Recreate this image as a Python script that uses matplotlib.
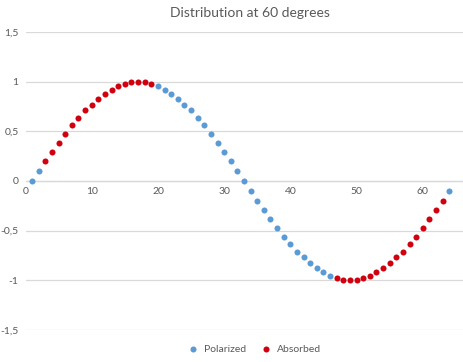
import matplotlib
matplotlib.use('Agg')
import matplotlib.pyplot as plt
from matplotlib.ticker import FuncFormatter

# data
pol_x = [1, 2] + list(range(20, 47)) + [64]
pol_y = [0, 0.10,
         0.96, 0.92, 0.88, 0.83, 0.77, 0.71, 0.63, 0.56, 0.47, 0.38, 0.29, 0.20, 0.10,
         0, -0.10, -0.20, -0.29, -0.38, -0.47, -0.56, -0.63, -0.71, -0.77, -0.83, -0.88,
         -0.92, -0.96,
         -0.10]
abs_x = list(range(3, 20)) + list(range(47, 64))
abs_y = [0.20, 0.29, 0.38, 0.47, 0.56, 0.63, 0.71, 0.77, 0.83, 0.88, 0.92, 0.96, 0.98,
         0.995, 1.00, 0.995, 0.98,
         -0.98, -0.995, -1.00, -0.995, -0.98, -0.96, -0.92, -0.88, -0.83, -0.77, -0.71,
         -0.63, -0.56, -0.47, -0.38, -0.29, -0.20]
y_ticks = [-1.5, -1, -0.5, 0, 0.5, 1, 1.5]
x_ticks = [0, 10, 20, 30, 40, 50, 60]

grey = '#595959'
plt.rcParams['font.family'] = ['Lato', 'DejaVu Sans']

fig = plt.figure(figsize=(4.63, 3.62), dpi=100)
ax = fig.add_axes([25.5/463, 32/362, 437/463, 298/362])

ax.scatter(pol_x, pol_y, s=19, color='#5B9BD5', label='Polarized', zorder=3, linewidths=0)
ax.scatter(abs_x, abs_y, s=19, color='#D0000E', label='Absorbed', zorder=3, linewidths=0)

ax.set_xlim(0, 66)
ax.set_ylim(-1.5, 1.5)
ax.set_yticks(y_ticks)
ax.set_xticks(x_ticks)
fmt = FuncFormatter(lambda v, p: ('%g' % v).replace('.', ','))
ax.yaxis.set_major_formatter(fmt)
ax.tick_params(axis='both', length=0, labelsize=7.5, colors=grey)
ax.tick_params(axis='y', pad=5)
ax.tick_params(axis='x', pad=4)

for s in ['top', 'right', 'left']:
    ax.spines[s].set_visible(False)
ax.spines['bottom'].set_position(('data', 0))
ax.spines['bottom'].set_color('#D9D9D9')
ax.spines['bottom'].set_linewidth(0.9)
ax.yaxis.grid(True, color='#D9D9D9', linewidth=0.9)
ax.set_axisbelow(True)

fig.text(250/463, 1 - 13/362, 'Distribution at 60 degrees', ha='center', va='center',
         fontsize=10, color=grey)

fig.legend(loc='center', bbox_to_anchor=(252/463, 13/362), ncol=2, frameon=False,
           fontsize=7.5, labelcolor=grey, handletextpad=0.05, columnspacing=0.9,
           markerscale=1.0)

fig.savefig('out.png', dpi=100)
